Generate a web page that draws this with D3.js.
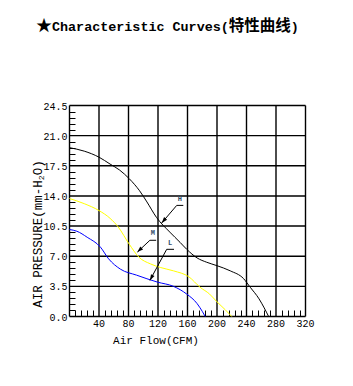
<!DOCTYPE html>
<html>
<head>
<meta charset="utf-8">
<script src="https://cdn.jsdelivr.net/npm/d3@7"></script>
<style>
  body { margin: 0; background: #fff; }
  text { font-family: "Liberation Mono", "DejaVu Sans Mono", monospace; fill: #000; }
</style>
</head>
<body>
<div id="chart"></div>
<script>
// curve data: [CFM, mm-H2O]
var curveH = [[0, 19.6], [20, 19.2], [40, 18.5], [55, 17.7], [68, 17.0], [81, 16.0], [95, 14.6], [105, 13.3], [118, 11.5], [136, 9.8], [150, 8.6], [159, 7.8], [173, 6.8], [186, 6.3], [200, 5.9], [218, 5.3], [236, 4.4], [245, 3.4], [257, 2.05], [264, 1.0], [270, 0]];
var curveM = [[0, 13.7], [20, 13.1], [40, 12.3], [55, 11.4], [66, 10.4], [81, 8.4], [94, 6.9], [110, 6.1], [123, 5.7], [141, 5.3], [162, 4.6], [177, 3.4], [190, 2.6], [200, 1.7], [211, 0.8], [220, 0]];
var curveL = [[0, 10.1], [10, 9.9], [24, 9.2], [42, 8.05], [53, 6.7], [69, 5.5], [91, 4.8], [119, 4.0], [141, 3.5], [159, 2.6], [173, 1.5], [180, 0.6], [184, 0]];

var xTicks = [0, 40, 80, 120, 160, 200, 240, 280, 320];
var yTicks = [0, 3.5, 7, 10.5, 14, 17.5, 21, 24.5];

// label, text position, underline [x0,x1,y], arrow tip
var labels = ["H", "M", "L"];
var labelPos = [[149.5, 13.45], [113, 9.45], [136.5, 8.3]];
var underline = [[145.4, 154.3, 12.9], [109, 117.5, 8.85], [131.8, 141.7, 7.8]];
var arrowTip = [[125, 10.86], [92, 7.48], [109, 4.19]];

var series = [
  { data: curveH, color: "#000000" },
  { data: curveM, color: "#ffff00" },
  { data: curveL, color: "#0000ff" }
];

var width = 353, height = 386;

var svg = d3.select("#chart").append("svg")
  .attr("width", width)
  .attr("height", height);

var x = d3.scaleLinear().domain([0, 320]).range([69.5, 305.5]);
var y = d3.scaleLinear().domain([0, 24.5]).range([316.5, 105.5]);

// title
var title = svg.append("text")
  .attr("x", 36)
  .attr("y", 31)
  .style("font-size", "13.4px")
  .style("font-weight", "bold");
title.append("tspan").style("font-family", "'Noto Sans CJK SC'").style("font-size", "16px").text("★");
title.append("tspan").text("Characteristic Curves(");
title.append("tspan").style("font-family", "'Noto Sans CJK SC'").style("font-size", "15.5px").text("特性曲线");
title.append("tspan").text(")");

// minor ticks
var xMinor = d3.range(0, 320, 8).filter(function (d) { return d % 40 != 0; });
var yMinor = d3.range(0, 24.5, 0.7).filter(function (d) { return Math.abs(d / 3.5 - Math.round(d / 3.5)) > 0.01; });

svg.append("g").selectAll("line").data(xMinor).enter().append("line")
  .attr("x1", function (d) { return Math.round(x(d)) + 0.5; })
  .attr("x2", function (d) { return Math.round(x(d)) + 0.5; })
  .attr("y1", y(0))
  .attr("y2", y(0) - 6)
  .attr("stroke", "#000");

svg.append("g").selectAll("line").data(yMinor).enter().append("line")
  .attr("x1", x(0))
  .attr("x2", x(0) + 6)
  .attr("y1", function (d) { return Math.round(y(d)) + 0.5; })
  .attr("y2", function (d) { return Math.round(y(d)) + 0.5; })
  .attr("stroke", "#000");

// grid
var grid = svg.append("g").attr("stroke", "#000").attr("stroke-width", 1.4);
grid.selectAll(".gx").data(xTicks).enter().append("line")
  .attr("x1", function (d) { return x(d); })
  .attr("x2", function (d) { return x(d); })
  .attr("y1", y(0))
  .attr("y2", y(24.5));
grid.selectAll(".gy").data(yTicks).enter().append("line")
  .attr("x1", x(0))
  .attr("x2", x(320))
  .attr("y1", function (d) { return y(d); })
  .attr("y2", function (d) { return y(d); });

// tick labels
svg.append("g").selectAll("text").data(yTicks).enter().append("text")
  .attr("x", x(0) - 2)
  .attr("y", function (d) { return y(d) + 4; })
  .attr("text-anchor", "end")
  .style("font-size", "10px")
  .text(function (d) { return d.toFixed(1); });

svg.append("g").selectAll("text").data(xTicks.slice(1)).enter().append("text")
  .attr("x", function (d) { return x(d); })
  .attr("y", 327)
  .attr("text-anchor", "middle")
  .style("font-size", "10px")
  .text(function (d) { return d; });

// axis titles
svg.append("text")
  .attr("x", 156)
  .attr("y", 344)
  .attr("text-anchor", "middle")
  .style("font-size", "11px")
  .text("Air Flow(CFM)");

var yt = svg.append("text")
  .attr("transform", "translate(42,234) rotate(-90)")
  .attr("text-anchor", "middle")
  .style("font-size", "12.5px");
yt.append("tspan").text("AIR PRESSURE(mm-H");
yt.append("tspan").attr("dy", 2).style("font-size", "8px").text("2");
yt.append("tspan").attr("dy", -2).text("O)");

// curves
var line = d3.line()
  .curve(d3.curveMonotoneX)
  .x(function (d) { return x(d[0]); })
  .y(function (d) { return y(d[1]); });

svg.append("g").selectAll("path").data(series).enter().append("path")
  .attr("d", function (d) { return line(d.data); })
  .attr("fill", "none")
  .attr("stroke", function (d) { return d.color; })
  .attr("stroke-width", 1);

// annotations
var ann = svg.append("g");
labels.forEach(function (lab, i) {
  var u = underline[i], t = arrowTip[i];
  ann.append("text")
    .attr("x", x(labelPos[i][0]))
    .attr("y", y(labelPos[i][1]))
    .attr("text-anchor", "middle")
    .style("font-size", "7px")
    .style("font-weight", "bold")
    .style("fill", "#33506a")
    .text(lab);
  ann.append("polyline")
    .attr("points", [[x(u[1]), y(u[2])], [x(u[0]), y(u[2])], [x(t[0]), y(t[1])]].join(" "))
    .attr("fill", "none")
    .attr("stroke", "#000");
  // arrow head
  var ang = Math.atan2(y(t[1]) - y(u[2]), x(t[0]) - x(u[0]));
  var tx = x(t[0]), ty = y(t[1]), len = 6, w = 2;
  var bx = tx - len * Math.cos(ang), by = ty - len * Math.sin(ang);
  ann.append("polygon")
    .attr("points", [[tx, ty], [bx - w * Math.sin(ang), by + w * Math.cos(ang)], [bx + w * Math.sin(ang), by - w * Math.cos(ang)]].join(" "))
    .attr("fill", "#000");
});
</script>
</body>
</html>
